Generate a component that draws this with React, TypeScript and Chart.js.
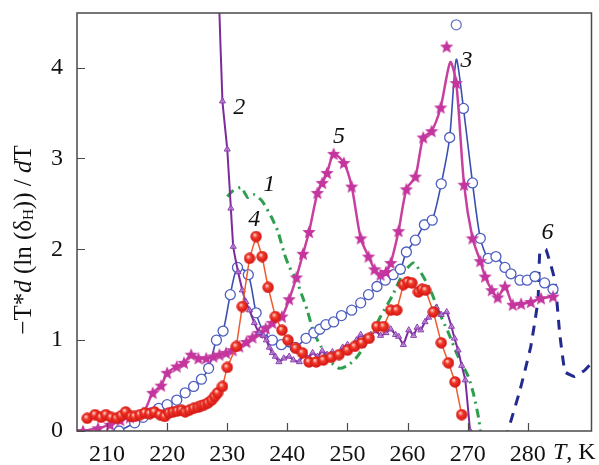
import React, { useEffect, useRef } from 'react';
import { Chart, registerables } from 'chart.js';
Chart.register(...registerables);

// ---- axes ----
const xTicks = [210, 220, 230, 240, 250, 260, 270, 280];
const yTicks = [0, 1, 2, 3, 4];

// ---- curve labels ----
const curveLabels = ['1', '2', '3', '4', '5', '6'];
const curveLabelT = [237.0, 232.0, 269.8, 234.5, 248.6, 283.3];
const curveLabelV = [2.71, 3.56, 4.07, 2.33, 3.24, 2.18];

// ---- series 1 (green dash-dot) ----
const s1T = [230.0, 230.9, 232.3, 233.4, 234.5, 235.8, 237.3, 238.4, 239.5, 240.3, 241.5, 242.5, 243.3, 244.4, 245.6, 246.9, 248.6, 250.0, 251.4, 253.5, 255.5, 257.4, 259.3, 261.0, 262.6, 264.0, 265.1, 266.8, 268.4, 270.1, 271.0, 271.8, 272.1];
const s1V = [2.58, 2.64, 2.68, 2.57, 2.6, 2.53, 2.36, 2.2, 1.95, 1.81, 1.66, 1.48, 1.33, 1.08, 0.93, 0.78, 0.69, 0.72, 0.8, 1.0, 1.26, 1.48, 1.74, 1.85, 1.7, 1.52, 1.33, 1.08, 0.82, 0.6, 0.4, 0.15, 0.0];

// ---- series 2 (purple triangles) ----
const s2T = [228.6, 229.2, 230.0, 230.6, 231.0, 231.8, 232.5, 233.1, 233.7, 234.5, 235.3, 236.0, 236.5, 237.0, 237.5, 238.0, 238.6, 239.4, 240.3, 241.0, 242.0, 242.7, 243.4, 244.2, 245.0, 245.8, 246.6, 247.5, 248.3, 249.2, 250.0, 250.8, 251.5, 252.2, 253.0, 253.9, 254.7, 255.5, 256.4, 257.2, 258.0, 258.5, 259.3, 260.2, 261.0, 261.6, 262.2, 262.9, 263.5, 264.2, 264.8, 265.6, 266.5, 267.3, 267.8, 268.4, 269.0, 269.6, 270.4];
const s2V = [4.8, 3.63, 3.1, 2.45, 2.03, 1.75, 1.55, 1.42, 1.33, 1.19, 1.08, 1.05, 1.0, 0.92, 0.86, 0.82, 0.76, 0.8, 0.82, 0.78, 0.76, 0.85, 0.8, 0.86, 0.82, 0.88, 0.84, 0.87, 0.85, 0.92, 0.95, 0.92, 1.0, 1.06, 1.03, 1.06, 1.1, 1.05, 1.08, 1.12, 1.06, 1.04, 0.95, 1.11, 1.05, 1.14, 1.11, 1.2, 1.25, 1.3, 1.36, 1.28, 1.31, 1.15, 1.02, 0.89, 0.72, 0.56, 0.0];

// ---- series 3 (blue open circles) ----
const s3T = [212.0, 214.6, 216.0, 217.3, 218.6, 220.0, 221.6, 223.0, 224.4, 225.7, 226.9, 228.2, 229.3, 230.5, 231.7, 233.5, 234.8, 236.0, 237.5, 239.0, 241.3, 243.1, 244.4, 245.4, 246.4, 247.7, 249.0, 250.7, 252.2, 253.5, 254.9, 256.3, 257.6, 258.8, 259.8, 261.3, 262.8, 264.1, 265.6, 267.0, 268.1, 269.3, 270.8, 272.1, 273.4, 274.7, 276.2, 277.2, 278.7, 279.9, 281.2, 282.8, 284.2];
const s3V = [0.0, 0.09, 0.15, 0.2, 0.25, 0.29, 0.34, 0.42, 0.49, 0.57, 0.69, 1.0, 1.1, 1.5, 1.8, 1.72, 1.3, 1.1, 1.0, 0.95, 0.92, 1.02, 1.08, 1.12, 1.17, 1.2, 1.27, 1.33, 1.41, 1.5, 1.59, 1.66, 1.72, 1.78, 1.97, 2.1, 2.27, 2.32, 2.72, 3.23, 4.09, 3.55, 2.73, 2.12, 1.9, 1.92, 1.8, 1.73, 1.66, 1.66, 1.7, 1.63, 1.56];
const s3ExtraT = [268.1];
const s3ExtraV = [4.47];

// ---- series 4 (red balls) ----
const s4T = [206.7, 208.0, 209.0, 209.8, 210.7, 211.6, 212.4, 213.1, 214.0, 214.6, 215.5, 216.3, 217.1, 217.9, 218.8, 219.6, 220.3, 221.0, 221.7, 222.4, 223.0, 223.7, 224.4, 225.1, 225.7, 226.2, 226.8, 227.4, 227.9, 228.4, 229.2, 230.0, 231.5, 232.5, 233.7, 234.8, 235.8, 236.8, 238.0, 239.1, 240.1, 241.4, 242.5, 243.6, 244.8, 246.0, 247.3, 248.6, 250.0, 251.2, 252.4, 253.6, 254.9, 256.0, 257.2, 258.2, 259.3, 260.0, 260.7, 261.8, 262.4, 263.0, 264.3, 265.6, 266.8, 267.9, 269.0];
const s4V = [0.14, 0.18, 0.15, 0.18, 0.15, 0.14, 0.17, 0.21, 0.16, 0.16, 0.18, 0.2, 0.19, 0.21, 0.18, 0.16, 0.2, 0.21, 0.22, 0.23, 0.21, 0.23, 0.25, 0.26, 0.28, 0.29, 0.31, 0.34, 0.38, 0.42, 0.49, 0.7, 0.93, 1.37, 1.9, 2.14, 1.92, 1.58, 1.26, 1.11, 1.0, 0.91, 0.86, 0.76, 0.76, 0.78, 0.81, 0.84, 0.89, 0.93, 0.97, 1.02, 1.15, 1.15, 1.33, 1.33, 1.61, 1.64, 1.63, 1.53, 1.56, 1.55, 1.31, 0.97, 0.75, 0.54, 0.18];

// ---- series 5 (magenta stars) ----
const s5T = [206.0, 208.5, 210.5, 212.2, 213.8, 216.0, 217.6, 219.0, 220.0, 221.6, 222.8, 224.0, 225.2, 226.5, 227.7, 228.7, 229.8, 230.9, 232.0, 233.2, 234.2, 235.3, 236.4, 237.5, 239.1, 240.3, 241.5, 242.6, 243.6, 245.0, 245.8, 246.6, 247.7, 249.4, 250.7, 252.2, 253.5, 254.5, 255.5, 256.4, 257.2, 258.5, 259.8, 261.3, 262.6, 264.0, 265.5, 267.1, 268.1, 269.4, 270.8, 272.1, 272.9, 274.0, 275.0, 276.2, 277.5, 278.9, 280.5, 282.2, 284.2];
const s5V = [0.0, 0.03, 0.07, 0.12, 0.15, 0.2, 0.42, 0.5, 0.64, 0.71, 0.75, 0.84, 0.8, 0.8, 0.82, 0.84, 0.86, 0.89, 0.93, 0.98, 1.03, 1.08, 1.13, 1.19, 1.26, 1.45, 1.69, 1.95, 2.19, 2.62, 2.73, 2.84, 3.05, 2.95, 2.69, 2.12, 1.92, 1.78, 1.72, 1.75, 1.85, 2.2, 2.66, 2.8, 3.23, 3.3, 3.56, 4.06, 3.83, 2.71, 2.12, 1.87, 1.7, 1.55, 1.47, 1.59, 1.39, 1.4, 1.42, 1.46, 1.48];
const s5ExtraT = [266.5];
const s5ExtraV = [4.23];

// ---- series 6 (navy dashed) ----
const s6T = [276.4, 276.7, 278.7, 280.5, 281.7, 282.0, 283.0, 284.5, 285.3, 286.2, 287.8, 289.5, 290.6];
const s6V = [-0.1, 0.0, 0.45, 0.93, 1.44, 1.96, 2.0, 1.66, 1.08, 0.65, 0.6, 0.67, 0.75];

const pts = (t: number[], v: number[]) => t.map((x, i) => ({ x, y: v[i] }));
const peakRadius = (v: number[], r: number) => {
  const m = Math.max(...v);
  return v.map((y) => (y === m ? 0 : r));
};

function makeStar(color: string, size: number) {
  const c = document.createElement('canvas');
  c.width = size;
  c.height = size;
  const ctx = c.getContext('2d')!;
  const cx = size / 2, cy = size / 2 + 0.5, R = size / 2, r = R * 0.45;
  ctx.beginPath();
  for (let i = 0; i < 10; i++) {
    const a = -Math.PI / 2 + (i * Math.PI) / 5;
    const rr = i % 2 === 0 ? R : r;
    const px = cx + rr * Math.cos(a), py = cy + rr * Math.sin(a);
    if (i === 0) ctx.moveTo(px, py); else ctx.lineTo(px, py);
  }
  ctx.closePath();
  ctx.fillStyle = color;
  ctx.fill();
  return c;
}

function makeBall(size: number) {
  const c = document.createElement('canvas');
  c.width = size;
  c.height = size;
  const ctx = c.getContext('2d')!;
  const R = size / 2;
  const g = ctx.createRadialGradient(R * 0.75, R * 0.7, 0.5, R, R, R);
  g.addColorStop(0, '#ffd0c8');
  g.addColorStop(0.35, '#f03a2a');
  g.addColorStop(1, '#d11010');
  ctx.beginPath();
  ctx.arc(R, R, R - 0.3, 0, Math.PI * 2);
  ctx.fillStyle = g;
  ctx.fill();
  return c;
}

const SERIF = '"Liberation Serif", "Times New Roman", serif';

const decorPlugin = {
  id: 'decor',
  afterDraw(chart: any) {
    const { ctx, chartArea, scales } = chart;
    const { left, right, top, bottom } = chartArea;
    const xs = scales.x, ys = scales.y;
    ctx.save();
    // frame
    ctx.strokeStyle = '#4a4a4a';
    ctx.lineWidth = 1.5;
    ctx.strokeRect(left, top, right - left, bottom - top);
    // inward ticks
    ctx.beginPath();
    xTicks.forEach((t) => {
      const px = Math.round(xs.getPixelForValue(t)) + 0.5;
      ctx.moveTo(px, bottom);
      ctx.lineTo(px, bottom - 8);
    });
    yTicks.forEach((v) => {
      const py = Math.round(ys.getPixelForValue(v)) + 0.5;
      ctx.moveTo(left, py);
      ctx.lineTo(left + 8, py);
    });
    ctx.lineWidth = 1.2;
    ctx.stroke();

    // curve labels
    ctx.fillStyle = '#111';
    ctx.font = `italic 24px ${SERIF}`;
    ctx.textAlign = 'center';
    ctx.textBaseline = 'middle';
    curveLabels.forEach((l, i) => {
      ctx.fillText(l, xs.getPixelForValue(curveLabelT[i]), ys.getPixelForValue(curveLabelV[i]));
    });

    // x axis unit label
    ctx.textAlign = 'left';
    ctx.textBaseline = 'middle';
    ctx.font = `italic 24px ${SERIF}`;
    ctx.fillText('T', 553, 453);
    const wT = ctx.measureText('T').width;
    ctx.font = `24px ${SERIF}`;
    ctx.fillText(', K', 553 + wT, 453);

    // y axis title
    const parts: { t: string; f: string; dy: number }[] = [
      { t: '\u2212T*', f: `25px ${SERIF}`, dy: 0 },
      { t: 'd', f: `italic 25px ${SERIF}`, dy: 0 },
      { t: ' (ln (\u03B4', f: `25px ${SERIF}`, dy: 0 },
      { t: 'H', f: `15px ${SERIF}`, dy: 5 },
      { t: ')) / ', f: `25px ${SERIF}`, dy: 0 },
      { t: 'd', f: `italic 25px ${SERIF}`, dy: 0 },
      { t: 'T', f: `25px ${SERIF}`, dy: 0 },
    ];
    let total = 0;
    parts.forEach((p) => {
      ctx.font = p.f;
      total += ctx.measureText(p.t).width;
    });
    ctx.translate(24, 240);
    ctx.rotate(-Math.PI / 2);
    let cx = -total / 2;
    parts.forEach((p) => {
      ctx.font = p.f;
      ctx.fillText(p.t, cx, p.dy);
      cx += ctx.measureText(p.t).width;
    });
    ctx.restore();
  },
};

export default function App() {
  const ref = useRef<HTMLCanvasElement | null>(null);
  useEffect(() => {
    const canvas = ref.current;
    if (!canvas) return;
    const star = makeStar('#c4369e', 14);
    const ball = makeBall(12);
    const chart = new Chart(canvas, {
      type: 'scatter',
      data: {
        datasets: [
          {
            label: '4',
            data: pts(s4T, s4V),
            showLine: true,
            borderColor: '#ec5a2e',
            borderWidth: 1.5,
            pointStyle: ball as any,
            pointRadius: 6,
            tension: 0,
            order: 1,
          },
          {
            label: '2',
            data: pts(s2T, s2V),
            showLine: true,
            borderColor: '#7a2c9c',
            borderWidth: 2,
            pointStyle: 'triangle',
            pointRadius: s2V.map((v) => (v > 4.6 ? 0 : 3.5)),
            pointBackgroundColor: 'rgba(190,140,220,0.7)',
            pointBorderColor: '#8a3cac',
            pointBorderWidth: 1,
            tension: 0.1,
            order: 2,
          },
          {
            label: '5',
            data: pts(s5T, s5V),
            showLine: true,
            borderColor: '#c8409f',
            borderWidth: 2.5,
            pointStyle: star as any,
            pointRadius: peakRadius(s5V, 5),
            tension: 0.25,
            order: 3,
          },
          {
            label: '5b',
            data: pts(s5ExtraT, s5ExtraV),
            showLine: false,
            pointStyle: star as any,
            pointRadius: 5,
            order: 3,
          },
          {
            label: '3',
            data: pts(s3T, s3V),
            showLine: true,
            borderColor: '#3a4fb0',
            borderWidth: 1.6,
            pointStyle: 'circle',
            pointRadius: peakRadius(s3V, 5),
            pointBackgroundColor: '#ffffff',
            pointBorderColor: '#4f5fc0',
            pointBorderWidth: 1.3,
            tension: 0.25,
            order: 4,
          },
          {
            label: '3b',
            data: pts(s3ExtraT, s3ExtraV),
            showLine: false,
            pointStyle: 'circle',
            pointRadius: 5,
            pointBackgroundColor: '#ffffff',
            pointBorderColor: '#6a76c8',
            pointBorderWidth: 1.3,
            order: 4,
          },
          {
            label: '1',
            data: pts(s1T, s1V),
            showLine: true,
            borderColor: '#2e9e4f',
            borderWidth: 3,
            borderDash: [9, 5, 2, 5],
            pointRadius: 0,
            tension: 0.2,
            order: 5,
          },
          {
            label: '6',
            data: pts(s6T, s6V),
            showLine: true,
            borderColor: '#232a8f',
            borderWidth: 3,
            borderDash: [10, 8],
            pointRadius: 0,
            tension: 0.1,
            order: 6,
          },
        ],
      },
      options: {
        animation: false,
        responsive: false,
        maintainAspectRatio: false,
        layout: { padding: { top: 13, right: 4, left: 0, bottom: 0 } },
        plugins: { legend: { display: false }, tooltip: { enabled: false } },
        scales: {
          x: {
            type: 'linear',
            min: 205,
            max: 290.6,
            afterBuildTicks: (s: any) => {
              s.ticks = xTicks.map((v) => ({ value: v }));
            },
            afterFit: (s: any) => {
              s.height = 34;
              s.paddingLeft = 0;
              s.paddingRight = 0;
            },
            grid: { display: false, drawTicks: false },
            border: { display: false },
            ticks: {
              padding: 9,
              color: '#111',
              font: { family: SERIF, size: 24 },
              maxRotation: 0,
              autoSkip: false,
            },
          },
          y: {
            type: 'linear',
            min: 0,
            max: 4.6,
            afterBuildTicks: (s: any) => {
              s.ticks = yTicks.map((v) => ({ value: v }));
            },
            afterFit: (s: any) => {
              s.width = 77;
              s.paddingTop = 0;
              s.paddingBottom = 0;
            },
            grid: { display: false, drawTicks: false },
            border: { display: false },
            ticks: {
              padding: 14,
              color: '#111',
              font: { family: SERIF, size: 24 },
            },
          },
        },
      },
      plugins: [decorPlugin],
    });
    return () => chart.destroy();
  }, []);
  return (
    <div style={{ position: 'fixed', left: 0, top: 0, width: 599, height: 465, background: '#fff' }}>
      <canvas ref={ref} width={599} height={465} style={{ width: 599, height: 465, display: 'block' }} />
    </div>
  );
}
